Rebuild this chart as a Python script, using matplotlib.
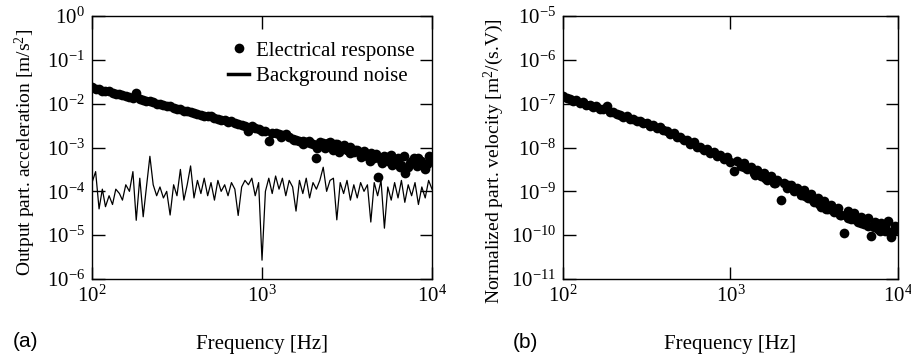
import numpy as np
import matplotlib
matplotlib.use('Agg')
import matplotlib.pyplot as plt
from matplotlib.ticker import LogLocator, LogFormatterSciNotation, NullLocator
from matplotlib.lines import Line2D

plt.rcParams['font.family'] = ['Liberation Serif', 'DejaVu Serif']
plt.rcParams['mathtext.fontset'] = 'custom'
plt.rcParams['mathtext.rm'] = 'Liberation Serif'
plt.rcParams['mathtext.it'] = 'Liberation Serif:italic'
plt.rcParams['axes.unicode_minus'] = False

# frequency grid [Hz]
freq = [100, 105, 110, 115, 120, 126, 132, 138, 145, 151,
        158, 166, 174, 182, 191, 200, 209, 219, 229, 240,
        251, 263, 275, 288, 302, 316, 331, 347, 363, 380,
        398, 417, 437, 457, 479, 501, 525, 550, 575, 603,
        631, 661, 692, 724, 759, 794, 832, 871, 912, 955,
        1000, 1047, 1096, 1148, 1202, 1259, 1318, 1380, 1445, 1514,
        1585, 1660, 1738, 1820, 1905, 1995, 2089, 2188, 2291, 2399,
        2512, 2630, 2754, 2884, 3020, 3162, 3311, 3467, 3631, 3802,
        3981, 4169, 4365, 4571, 4786, 5012, 5248, 5495, 5754, 6026,
        6310, 6607, 6918, 7244, 7586, 7943, 8318, 8710, 9120, 9550,
        10000]

# (a) electrical response, log10 of acceleration [m/s^2]
resp_a_exp = [-1.62, -1.66, -1.67, -1.70, -1.71, -1.72, -1.76, -1.77, -1.78, -1.80,
              -1.83, -1.84, -1.86, -1.76, -1.90, -1.92, -1.94, -1.95, -1.97, -2.00,
              -2.01, -2.04, -2.06, -2.05, -2.10, -2.12, -2.13, -2.16, -2.17, -2.20,
              -2.22, -2.23, -2.26, -2.27, -2.29, -2.28, -2.33, -2.34, -2.37, -2.38,
              -2.42, -2.40, -2.45, -2.47, -2.48, -2.52, -2.62, -2.52, -2.55, -2.58,
              -2.62, -2.63, -2.85, -2.66, -2.68, -2.70, -2.72, -2.70, -2.76, -2.80,
              -2.82, -2.84, -2.85, -2.88, -2.90, -2.92, -3.24, -2.92, -2.90, -2.96,
              -2.88, -2.95, -2.92, -3.00, -2.95, -3.05, -2.98, -3.10, -3.05, -3.15,
              -3.08, -3.20, -3.12, -3.25, -3.68, -3.28, -3.20, -3.30, -3.18, -3.35,
              -3.25, -3.40, -3.58, -3.45, -3.30, -3.35, -3.25, -3.40, -3.50, -3.20,
              -3.30]
extra_freq_a = [1300, 1550, 1750, 1900, 2100, 2200, 2350, 2450, 2600, 2700,
                2850, 3000, 3300, 3500, 3800, 4000, 4300, 4700, 5100, 5400,
                5800, 6200, 6500, 6800, 7400, 7800, 8200, 8600, 9300, 9800]
extra_a_exp = [-2.76, -2.82, -2.92, -2.86, -3.00, -2.88, -3.02, -2.90, -3.05, -2.93,
               -3.10, -2.98, -3.12, -3.05, -3.22, -3.10, -3.30, -3.15, -3.35, -3.22,
               -3.40, -3.28, -3.45, -3.20, -3.35, -3.25, -3.42, -3.30, -3.38, -3.22]

# (a) background noise, log10 of acceleration [m/s^2]
noise_exp = [-3.80, -3.55, -4.40, -3.95, -4.35, -4.10, -4.30, -3.95, -4.05, -4.20,
             -3.85, -4.00, -3.55, -4.66, -3.70, -4.58, -3.90, -3.20, -3.85, -4.10,
             -3.90, -4.15, -4.00, -4.54, -3.85, -4.10, -3.50, -4.20, -3.85, -3.42,
             -4.15, -3.75, -4.05, -3.70, -4.10, -3.80, -4.20, -3.75, -4.00, -3.85,
             -4.10, -3.80, -3.95, -4.55, -3.90, -3.75, -3.85, -3.70, -4.10, -3.80,
             -5.57, -4.00, -3.70, -4.05, -3.65, -3.95, -3.70, -4.10, -3.75, -3.90,
             -4.45, -3.75, -4.05, -3.70, -4.15, -3.80, -3.95, -3.75, -3.45, -4.00,
             -3.75, -3.70, -4.65, -3.80, -4.05, -3.75, -4.20, -3.85, -4.15, -3.80,
             -4.00, -3.85, -4.70, -3.80, -4.10, -3.75, -4.84, -3.90, -4.20, -3.80,
             -4.15, -3.75, -4.25, -3.85, -4.10, -3.80, -4.30, -3.90, -4.15, -3.75,
             -3.95]

# (b) normalized particle velocity, log10 [m^2/(s.V)]
resp_b_exp = [-6.83, -6.88, -6.89, -6.93, -6.92, -6.98, -6.97, -7.02, -7.03, -7.07,
              -7.06, -7.12, -7.11, -7.05, -7.19, -7.20, -7.24, -7.25, -7.30, -7.29,
              -7.35, -7.34, -7.40, -7.39, -7.45, -7.44, -7.50, -7.49, -7.55, -7.54,
              -7.61, -7.62, -7.69, -7.68, -7.76, -7.75, -7.83, -7.82, -7.91, -7.88,
              -7.98, -7.99, -8.05, -8.04, -8.12, -8.10, -8.19, -8.17, -8.26, -8.22,
              -8.32, -8.54, -8.30, -8.42, -8.36, -8.50, -8.45, -8.57, -8.52, -8.66,
              -8.58, -8.73, -8.65, -8.80, -8.74, -9.20, -8.80, -8.93, -8.86, -9.00,
              -8.92, -9.08, -8.98, -9.15, -9.05, -9.25, -9.15, -9.35, -9.22, -9.40,
              -9.30, -9.48, -9.38, -9.55, -9.96, -9.45, -9.62, -9.50, -9.70, -9.58,
              -9.75, -9.60, -10.02, -9.70, -9.85, -9.72, -9.90, -9.68, -10.05, -9.78,
              -9.82]
extra_freq_b = [1200, 1400, 1600, 1850, 2200, 2500, 2800, 3100, 3400, 3700,
                4100, 4500, 5000, 5500, 6000, 6600, 7200, 7800, 8400, 9000, 9600]
extra_b_exp = [-8.45, -8.62, -8.70, -8.82, -8.85, -8.95, -9.10, -9.20, -9.28, -9.40,
               -9.42, -9.55, -9.60, -9.62, -9.72, -9.78, -9.82, -9.90, -9.80, -9.92, -9.88]

FS = 15
MS = 7.0


def style_axis(ax, ylim):
    ax.set_xscale('log')
    ax.set_yscale('log')
    ax.set_xlim(100, 1e4)
    ax.set_ylim(*ylim)
    for axis in (ax.xaxis, ax.yaxis):
        axis.set_major_locator(LogLocator(base=10, numticks=15))
        axis.set_major_formatter(LogFormatterSciNotation())
        axis.set_minor_locator(NullLocator())
    ax.tick_params(which='major', direction='in', length=9, width=1,
                   top=True, right=True, labelsize=FS, pad=5)
    for s in ax.spines.values():
        s.set_linewidth(1.0)


fig = plt.figure(figsize=(9.12, 3.61), dpi=100)

# panel (a)
ax1 = fig.add_axes([0.1009, 0.2271, 0.3728, 0.7285])
f = np.array(freq)
ax1.plot(f, 10.0 ** np.array(noise_exp), color='k', lw=0.9)
ax1.plot(f, 10.0 ** np.array(resp_a_exp), 'o', color='k', ms=MS, mew=0)
ax1.plot(extra_freq_a, 10.0 ** np.array(extra_a_exp), 'o', color='k', ms=MS, mew=0)
style_axis(ax1, (1e-6, 1e0))
ax1.set_xlabel('Frequency [Hz]', fontsize=FS, labelpad=20)
ax1.set_ylabel('Output part. acceleration [m/s$^2$]', fontsize=14)
ax1.yaxis.set_label_coords(-0.16, 0.48)

handles = [Line2D([], [], marker='o', ls='none', color='k', ms=7, mew=0),
           Line2D([], [], color='k', lw=2.5)]
ax1.legend(handles, ['Electrical response', 'Background noise'],
           loc='upper right', bbox_to_anchor=(0.95, 0.905), frameon=False,
           fontsize=FS, handlelength=1.0, handletextpad=0.35,
           labelspacing=0.3, borderaxespad=0, borderpad=0)

# panel (b)
ax2 = fig.add_axes([0.6173, 0.2271, 0.3673, 0.7285])
ax2.plot(f, 10.0 ** np.array(resp_b_exp), 'o', color='k', ms=MS, mew=0)
ax2.plot(extra_freq_b, 10.0 ** np.array(extra_b_exp), 'o', color='k', ms=MS, mew=0)
style_axis(ax2, (1e-11, 1e-5))
ax2.set_xlabel('Frequency [Hz]', fontsize=FS, labelpad=20)
ax2.set_ylabel('Normalized part. velocity [m$^2$/(s.V)]', fontsize=14)
ax2.yaxis.set_label_coords(-0.17, 0.45)

fig.text(0.014, 0.055, '(a)', family='Liberation Sans', fontsize=FS, va='center')
fig.text(0.562, 0.052, '(b)', family='Liberation Sans', fontsize=FS, va='center')

fig.savefig('out.png', dpi=100)
